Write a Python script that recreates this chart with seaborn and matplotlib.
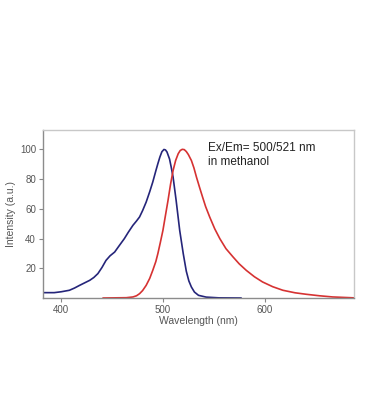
"""
plot.py - spectres excitation / emission (Ex/Em = 500/521 nm, methanol)
"""
import numpy as np
import pandas as pd
import matplotlib
matplotlib.use("Agg")
import matplotlib.pyplot as plt
import seaborn as sns

# excitation (bleu)
ex_wl = [382, 393, 400, 408, 413, 418, 423, 428, 432, 436, 440, 444, 448, 452.5, 457, 462,
         466, 470.5, 474, 477, 480, 483.5, 487, 490, 493, 495, 497, 499, 501, 502.5,
         504, 506.5, 508, 510, 513, 516.5, 520, 523, 525.5, 528, 531, 535, 542.5, 555, 577]
ex_int = [3.6, 3.6, 4.2, 5.2, 6.7, 8.5, 10.2, 11.9, 13.8, 16.4, 20.5, 25.3, 28.4, 30.9, 35.2, 39.9,
          44.3, 48.9, 51.8, 54.5, 58.8, 64.5, 71.5, 78, 85.5, 90.3, 94.8, 98.4, 99.9, 99.6,
          98.2, 93.5, 88.5, 81.3, 65.6, 45.5, 29.8, 18.0, 11.5, 7.4, 4.0, 1.8, 0.6, 0.1, 0]

# emission (rouge)
em_wl = [441, 464, 470.5, 474, 477, 480, 483.5, 487, 490, 493, 495, 497.5, 500, 502.5, 505,
         507.5, 510, 512.5, 515, 517, 519, 521, 523, 525, 528, 530.5, 533, 536, 539, 542,
         546, 551, 556, 562, 569, 575, 582, 590, 598, 608, 618, 630, 641, 654, 667, 688]
em_int = [0, 0.2, 0.7, 1.5, 2.9, 5.0, 8.5, 13.2, 18.6, 24.5, 29.8, 37.5, 45.5, 55.6, 65.6,
          76.5, 85.8, 92.5, 97, 99.2, 100, 99.8, 98.5, 96.5, 92.5, 87.5, 81.3, 74.5, 67.9, 61.5,
          54.5, 46.5, 39.9, 33.2, 27.6, 23.0, 18.6, 14.3, 10.8, 7.6, 5.2, 3.5, 2.5, 1.5, 0.7, 0.1]

sns.set_theme(style="white")
plt.rcParams["font.family"] = ["Liberation Sans", "DejaVu Sans"]

df = pd.concat([
    pd.DataFrame({"wl": ex_wl, "I": ex_int, "spectre": "Ex"}),
    pd.DataFrame({"wl": em_wl, "I": em_int, "spectre": "Em"}),
])

fig = plt.figure(figsize=(3.68, 4.19), dpi=100)
ax = fig.add_axes([43 / 368, 1 - 298 / 419, (354 - 43) / 368, (298 - 130) / 419])
sns.lineplot(data=df, x="wl", y="I", hue="spectre", palette={"Ex": "#25257a", "Em": "#d63232"},
             lw=1.2, legend=False, ax=ax, sort=False)

ax.set_xlim(382, 688); ax.set_ylim(0, 113)
ax.set_xticks([400, 500, 600]); ax.set_yticks([20, 40, 60, 80, 100])
ax.tick_params(axis="both", labelsize=7, colors="#888888", labelcolor="#555555",
               length=3, width=0.8, direction="out", pad=2, bottom=True, left=True)
for s in ["top", "right"]:
    ax.spines[s].set_color("#c8c8c8"); ax.spines[s].set_linewidth(1.0)
for s in ["left", "bottom"]:
    ax.spines[s].set_color("#8c8c8c"); ax.spines[s].set_linewidth(1.0)
ax.set_xlabel("Wavelength (nm)", fontsize=7.5, color="#555555", labelpad=1)
ax.set_ylabel("Intensity (a.u.)", fontsize=7.5, color="#555555", labelpad=3)
ax.text(0.53, 0.93, "Ex/Em= 500/521 nm\nin methanol", transform=ax.transAxes,
        fontsize=8.5, color="#222222", va="top", ha="left", linespacing=1.25)

fig.savefig("out.png", dpi=100)
